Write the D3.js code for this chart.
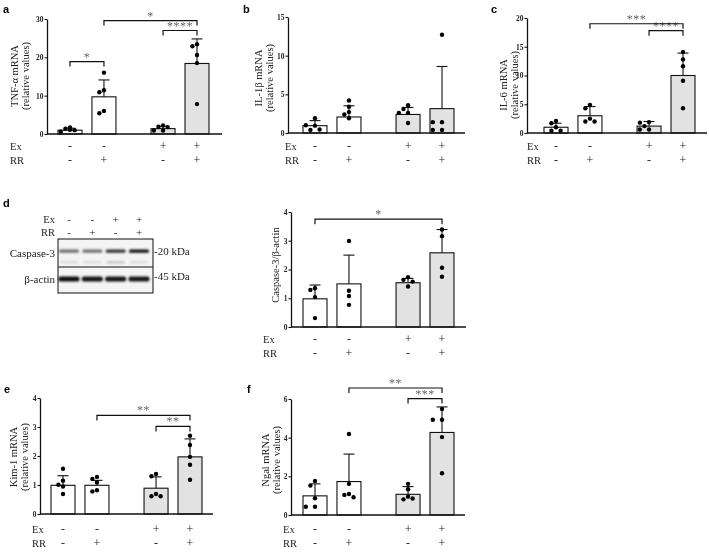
<!DOCTYPE html>
<html>
<head>
<meta charset="utf-8">
<script src="https://cdn.jsdelivr.net/npm/d3@7"></script>
<style>
  body { margin: 0; background: #fff; }
  svg { display: block; will-change: transform; }
</style>
</head>
<body>
<svg id="chart" width="709" height="552"></svg>
<script>
// groups: Ex / RR treatment combos
const exRow = ["-", "-", "+", "+"];
const rrRow = ["-", "+", "-", "+"];

// a: TNF-alpha
const tnfMean = [1.0, 9.7, 1.4, 18.4];
const tnfSd = [0.5, 4.4, 0.6, 6.4];
const tnfPts = [[1.7, 1.4, 1.0, 0.6, 1.1], [16.0, 11.4, 10.9, 6.0, 5.4], [2.2, 1.9, 0.9, 0.9, 1.8], [23.4, 22.9, 20.6, 18.5, 7.8]];
const tnfSig = [[0, 1, 18.9, "*"], [2, 3, 27.0, "****"], [1, 3, 29.6, "*"]];

// b: IL-1beta
const il1Mean = [0.95, 2.07, 2.4, 3.15];
const il1Sd = [0.65, 1.45, 0.9, 5.45];
const il1Pts = [[1.9, 0.95, 1.0, 0.4, 0.45], [4.2, 3.4, 2.7, 2.4, 1.9], [3.6, 3.1, 2.6, 2.6, 1.3], [12.7, 1.4, 1.4, 0.4, 0.4]];
const il1Sig = [];

// c: IL-6
const il6Mean = [1.0, 3.0, 1.2, 10.0];
const il6Sd = [0.7, 1.6, 0.8, 3.9];
const il6Pts = [[2.1, 1.7, 1.0, 0.4, 0.4], [4.9, 4.3, 2.5, 2.0, 2.0], [1.9, 1.8, 1.2, 0.6, 0.6], [14.1, 12.8, 11.6, 9.1, 4.3]];
const il6Sig = [[2, 3, 17.8, "****"], [1, 3, 19.0, "***"]];

// d: Caspase-3 / beta-actin
const caspMean = [0.98, 1.5, 1.54, 2.58];
const caspSd = [0.48, 1.0, 0.15, 0.81];
const caspPts = [[1.35, 1.29, 1.04, 0.31], [2.99, 1.26, 1.08, 0.77], [1.73, 1.64, 1.58, 1.41], [3.39, 3.16, 2.06, 1.75]];
const caspSig = [[0, 3, 3.75, "*"]];
const caspBand = [0.55, 0.55, 0.8, 0.95];
const actinBand = [0.95, 0.92, 0.92, 0.9];

// e: Kim-1
const kimMean = [0.99, 0.99, 0.89, 1.97];
const kimSd = [0.33, 0.17, 0.39, 0.62];
const kimPts = [[1.56, 1.15, 1.01, 0.95, 0.69], [1.28, 1.21, 1.09, 0.82, 0.78], [1.38, 1.30, 0.69, 0.61, 0.61], [2.7, 2.38, 1.97, 1.70, 1.18]];
const kimSig = [[2, 3, 3.02, "**"], [1, 3, 3.40, "**"]];

// f: Ngal
const ngalMean = [0.99, 1.73, 1.07, 4.27];
const ngalSd = [0.62, 1.42, 0.4, 1.32];
const ngalPts = [[1.76, 1.52, 0.87, 0.43, 0.43], [4.19, 1.61, 1.09, 1.04, 0.92], [1.61, 1.33, 0.95, 0.81, 0.85], [5.48, 4.93, 4.93, 4.03, 2.16]];
const ngalSig = [[2, 3, 6.02, "***"], [1, 3, 6.57, "**"]];

const serif = "'Liberation Serif', 'Times New Roman', serif";
const sans = "'Liberation Sans', Arial, sans-serif";
const slots = [0, 1, 2.74, 3.74];

const panels = [
  { letter: "a", lx: 3, ly: 13, ax: 47, xEnd: 222, first: 70, y0: 134, yTop: 19, yMax: 30, ticks: [0, 10, 20, 30],
    mean: tnfMean, sd: tnfSd, pts: tnfPts, sig: tnfSig, title: ["TNF-α mRNA", "(relative values)"], tx: 14, ty: 76, rowX: 10, rowY: 146 },
  { letter: "b", lx: 243, ly: 13, ax: 288, xEnd: 465, first: 315, y0: 133, yTop: 17, yMax: 15, ticks: [0, 5, 10, 15],
    mean: il1Mean, sd: il1Sd, pts: il1Pts, sig: il1Sig, title: ["IL-1β mRNA", "(relative values)"], tx: 258, ty: 78, rowX: 285, rowY: 146 },
  { letter: "c", lx: 491, ly: 13, ax: 527, xEnd: 707, first: 556, y0: 133, yTop: 18, yMax: 20, ticks: [0, 5, 10, 15, 20],
    mean: il6Mean, sd: il6Sd, pts: il6Pts, sig: il6Sig, title: ["IL-6 mRNA", "(relative values)"], tx: 503, ty: 85, rowX: 527, rowY: 146 },
  { letter: null, ax: 291, xEnd: 466, first: 315, y0: 327, yTop: 212, yMax: 4, ticks: [0, 1, 2, 3, 4],
    mean: caspMean, sd: caspSd, pts: caspPts, sig: caspSig, title: ["Caspase-3/β-actin"], tx: 275, ty: 265, rowX: 263, rowY: 339 },
  { letter: "e", lx: 4, ly: 393, ax: 40, xEnd: 213, first: 63, y0: 514, yTop: 398, yMax: 4, ticks: [0, 1, 2, 3, 4],
    mean: kimMean, sd: kimSd, pts: kimPts, sig: kimSig, title: ["Kim-1 mRNA", "(relative values)"], tx: 13, ty: 457, rowX: 32, rowY: 529 },
  { letter: "f", lx: 247, ly: 393, ax: 291, xEnd: 465, first: 315, y0: 515, yTop: 399, yMax: 6, ticks: [0, 2, 4, 6],
    mean: ngalMean, sd: ngalSd, pts: ngalPts, sig: ngalSig, title: ["Ngal mRNA", "(relative values)"], tx: 265, ty: 460, rowX: 283, rowY: 529 }
];

const svg = d3.select("#chart");
const r = 2.2;

// simple beeswarm so overlapping dots spread sideways
function swarm(vals, cx, y) {
  const placed = [];
  return vals.map(v => {
    const py = y(v);
    const tries = [0, -4.6, 4.6, -9.2, 9.2];
    let dx = 0;
    for (const t of tries) {
      if (placed.every(p => Math.hypot(p.x - (cx + t), p.y - py) >= 2 * r + 0.3)) { dx = t; break; }
    }
    const p = { x: cx + dx, y: py };
    placed.push(p);
    return p;
  });
}

panels.forEach(p => {
  const g = svg.append("g");
  const y = d3.scaleLinear().domain([0, p.yMax]).range([p.y0, p.yTop]);
  const x = d3.scaleLinear().domain([0, 3.74]).range([p.first, p.first + 127]);
  const bw = 24;

  if (p.letter) {
    g.append("text").attr("x", p.lx).attr("y", p.ly).text(p.letter)
      .attr("font-family", sans).attr("font-weight", "bold").attr("font-size", 11);
  }

  // y title
  p.title.forEach((t, i) => {
    g.append("text")
      .attr("transform", `translate(${p.tx + i * 11},${p.ty}) rotate(-90)`)
      .attr("text-anchor", "middle").attr("dominant-baseline", "central")
      .attr("font-family", serif).attr("font-size", 10.5).attr("fill", "#222").text(t);
  });

  // bars
  g.selectAll("rect.bar").data(p.mean).join("rect")
    .attr("x", (d, i) => x(slots[i]) - bw / 2)
    .attr("y", d => y(d))
    .attr("width", bw)
    .attr("height", d => p.y0 - y(d))
    .attr("fill", (d, i) => i < 2 ? "#fff" : "#e2e2e2")
    .attr("stroke", "#111").attr("stroke-width", 1.1);

  // error bars (upper only)
  p.mean.forEach((m, i) => {
    const cx = x(slots[i]);
    const top = y(m + p.sd[i]);
    g.append("line").attr("x1", cx).attr("x2", cx).attr("y1", y(m)).attr("y2", top)
      .attr("stroke", "#111").attr("stroke-width", 1.1);
    g.append("line").attr("x1", cx - 5.5).attr("x2", cx + 5.5).attr("y1", top).attr("y2", top)
      .attr("stroke", "#111").attr("stroke-width", 1.1);
  });

  // dots
  p.pts.forEach((vals, i) => {
    const pos = swarm(vals, x(slots[i]), y);
    g.selectAll(null).data(pos).join("circle")
      .attr("cx", d => d.x).attr("cy", d => d.y).attr("r", r).attr("fill", "#000");
  });

  // axes
  const yAxis = d3.axisLeft(y).tickValues(p.ticks).tickFormat(d3.format("d"))
    .tickSize(2.5).tickSizeOuter(0).tickPadding(1);
  const ag = g.append("g").attr("transform", `translate(${p.ax},0)`).call(yAxis);
  ag.select(".domain").attr("stroke", "#111").attr("stroke-width", 1.3);
  ag.selectAll(".tick line").attr("stroke", "#111").attr("stroke-width", 1.1);
  ag.selectAll(".tick text").attr("font-family", serif).attr("font-weight", "bold")
    .attr("font-size", 7.5).attr("fill", "#222");
  g.append("line").attr("x1", p.ax).attr("x2", p.xEnd).attr("y1", p.y0).attr("y2", p.y0)
    .attr("stroke", "#111").attr("stroke-width", 1.3);

  // Ex / RR rows
  [["Ex", exRow, p.rowY], ["RR", rrRow, p.rowY + 14]].forEach(([lab, row, ry]) => {
    g.append("text").attr("x", p.rowX).attr("y", ry).attr("dominant-baseline", "central")
      .attr("font-family", serif).attr("font-size", 10.5).attr("fill", "#222").text(lab);
    g.selectAll(null).data(row).join("text")
      .attr("x", (d, i) => x(slots[i])).attr("y", ry)
      .attr("text-anchor", "middle").attr("dominant-baseline", "central")
      .attr("font-family", serif).attr("font-size", 12).attr("fill", "#222").text(d => d);
  });

  // significance brackets
  p.sig.forEach(([a, b, v, lab]) => {
    const x1 = x(slots[a]), x2 = x(slots[b]), yy = y(v);
    g.append("path").attr("d", `M${x1},${yy + 5}V${yy}H${x2}V${yy + 5}`)
      .attr("fill", "none").attr("stroke", "#111").attr("stroke-width", 1.2);
    g.append("text").attr("x", (x1 + x2) / 2).attr("y", yy - 1)
      .attr("text-anchor", "middle").attr("font-family", serif).attr("font-size", 12)
      .attr("letter-spacing", 0.5).attr("fill", "#666").text(lab);
  });
});

// panel d: western blot
const wb = svg.append("g");
const defs = svg.append("defs");
defs.append("filter").attr("id", "blur").append("feGaussianBlur").attr("stdDeviation", 0.9);
wb.append("text").attr("x", 3).attr("y", 207).text("d")
  .attr("font-family", sans).attr("font-weight", "bold").attr("font-size", 11);

const lane = d3.scaleLinear().domain([0, 3]).range([69, 139]);
[["Ex", exRow, 219], ["RR", rrRow, 232]].forEach(([lab, row, ry]) => {
  wb.append("text").attr("x", 55).attr("y", ry).attr("text-anchor", "end").attr("dominant-baseline", "central")
    .attr("font-family", serif).attr("font-size", 10.5).attr("fill", "#222").text(lab);
  wb.selectAll(null).data(row).join("text")
    .attr("x", (d, i) => lane(i)).attr("y", ry)
    .attr("text-anchor", "middle").attr("dominant-baseline", "central")
    .attr("font-family", serif).attr("font-size", 11).attr("fill", "#222").text(d => d);
});

wb.append("rect").attr("x", 58).attr("y", 239).attr("width", 95).attr("height", 54)
  .attr("fill", "#f4f4f4");
const bands = wb.append("g").attr("filter", "url(#blur)");
caspBand.forEach((v, i) => {
  bands.append("rect").attr("x", lane(i) - 10).attr("y", 249.5).attr("width", 20).attr("height", 3.2)
    .attr("rx", 1.5).attr("fill", "#000").attr("opacity", v);
  bands.append("rect").attr("x", lane(i) - 9).attr("y", 261).attr("width", 18).attr("height", 2.5)
    .attr("rx", 1.2).attr("fill", "#000").attr("opacity", 0.1 + (i === 2 ? 0.08 : 0));
});
actinBand.forEach((v, i) => {
  bands.append("rect").attr("x", lane(i) - 10.5).attr("y", 276.5).attr("width", 21).attr("height", 5)
    .attr("rx", 2).attr("fill", "#000").attr("opacity", v);
});
wb.append("rect").attr("x", 58).attr("y", 239).attr("width", 95).attr("height", 54)
  .attr("fill", "none").attr("stroke", "#111").attr("stroke-width", 1);
wb.append("line").attr("x1", 58).attr("x2", 153).attr("y1", 267).attr("y2", 267)
  .attr("stroke", "#111").attr("stroke-width", 1);

[["Caspase-3", 253], ["β-actin", 279]].forEach(([t, ty]) => {
  wb.append("text").attr("x", 55).attr("y", ty).attr("text-anchor", "end").attr("dominant-baseline", "central")
    .attr("font-family", serif).attr("font-size", 11).attr("fill", "#222").text(t);
});
[["-20 kDa", 251], ["-45 kDa", 276]].forEach(([t, ty]) => {
  wb.append("text").attr("x", 154).attr("y", ty).attr("dominant-baseline", "central")
    .attr("font-family", serif).attr("font-size", 11).attr("fill", "#222").text(t);
});
</script>
</body>
</html>
